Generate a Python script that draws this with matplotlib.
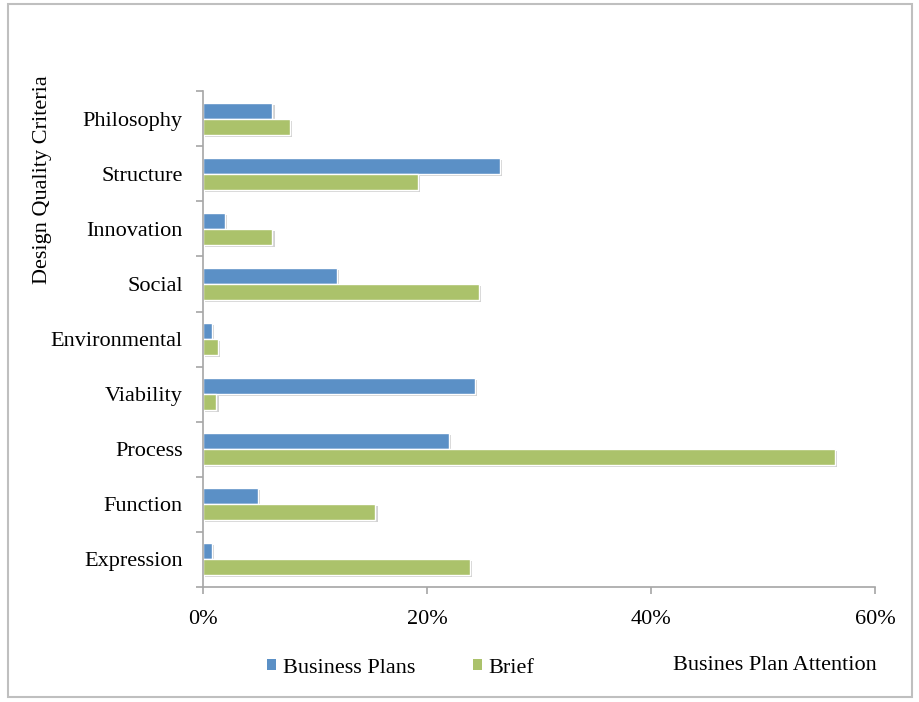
import matplotlib
matplotlib.use("Agg")
import matplotlib.pyplot as plt
import matplotlib.patheffects as pe
from matplotlib.patches import Rectangle, Patch
from matplotlib.ticker import FuncFormatter, MultipleLocator
import numpy as np

plt.rcParams['font.family'] = ['Liberation Serif', 'DejaVu Serif']

# categories, bottom to top
categories = ["Expression", "Function", "Process", "Viability", "Environmental",
              "Social", "Innovation", "Structure", "Philosophy"]
business_plans = [0.8, 4.9, 22.0, 24.3, 0.8, 12.0, 2.0, 26.5, 6.2]
brief = [23.8, 15.4, 56.4, 1.2, 1.3, 24.6, 6.2, 19.2, 7.8]

blue = "#5B90C6"
green = "#ABC26B"
axis_grey = "#A6A6A6"

fig = plt.figure(figsize=(9.19, 7.02), dpi=100)
ax = fig.add_axes([0.2209, 0.164, 0.7312, 0.706])

y = np.arange(len(categories))
h = 0.29
shadow = [pe.SimplePatchShadow(offset=(1.5, -1.5), shadow_rgbFace="#808080", alpha=0.35), pe.Normal()]
b1 = ax.barh(y + 0.145, business_plans, height=h, color=blue, edgecolor="white", linewidth=1)
b2 = ax.barh(y - 0.145, brief, height=h, color=green, edgecolor="white", linewidth=1)
for bar in list(b1) + list(b2):
    bar.set_path_effects(shadow)

ax.set_xlim(0, 60)
ax.set_ylim(-0.5, len(categories) - 0.5)
ax.xaxis.set_major_locator(MultipleLocator(20))
ax.xaxis.set_major_formatter(FuncFormatter(lambda v, p: f"{v:.0f}%"))
ax.set_yticks(y)
ax.set_yticklabels(categories)
ax.set_yticks(np.arange(-0.5, len(categories), 1.0), minor=True)

for s in ["top", "right"]:
    ax.spines[s].set_visible(False)
for s in ["left", "bottom"]:
    ax.spines[s].set_color(axis_grey)
    ax.spines[s].set_linewidth(1.2)

ax.tick_params(axis="y", which="major", length=0, labelsize=16, pad=14.5)
ax.tick_params(axis="y", which="minor", length=5, color=axis_grey, width=1.2)
ax.tick_params(axis="x", which="major", length=5, color=axis_grey, width=1.2,
               labelsize=16, pad=12)

fig.text(0.046, 0.744, "Design Quality Criteria", rotation=90, ha="center",
         va="center", fontsize=16)
fig.text(0.732, 0.052, "Busines Plan Attention", ha="left", va="center", fontsize=16)

handles = [Patch(facecolor=blue, edgecolor="none"), Patch(facecolor=green, edgecolor="none")]
fig.legend(handles, ["Business Plans", "Brief"], loc="center",
           bbox_to_anchor=(0.436, 0.048), ncol=2, frameon=False, fontsize=16,
           handlelength=0.4, handleheight=0.4, handletextpad=0.3, columnspacing=2.6)

fig.patches.append(Rectangle((0.009, 0.007), 0.983, 0.988, transform=fig.transFigure,
                             fill=False, edgecolor="#BFBFBF", linewidth=1.5))

fig.savefig("out.png", dpi=100)
